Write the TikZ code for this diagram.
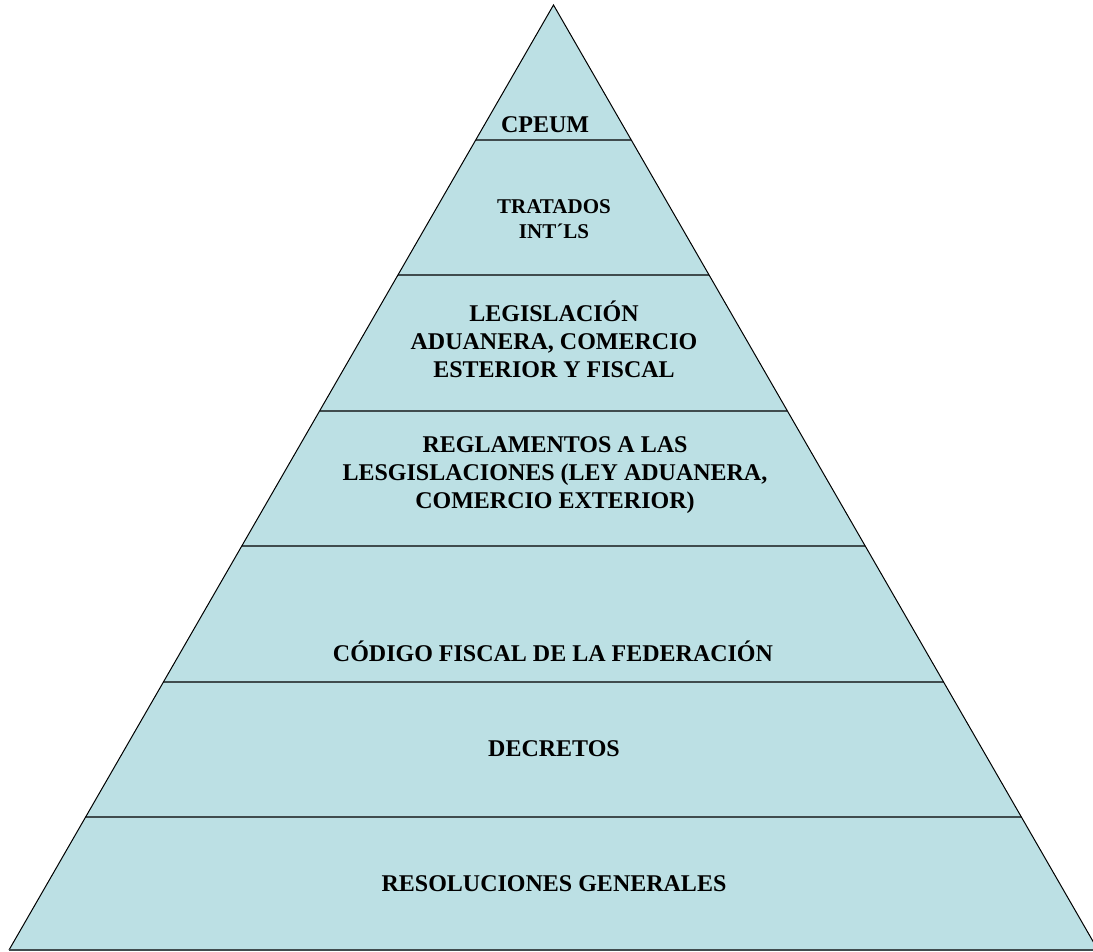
\documentclass[tikz,border=0pt]{standalone}
\usepackage{fontspec}
\setmainfont{Liberation Serif}
\usetikzlibrary{calc}
\definecolor{pyrfill}{RGB}{188,224,228}
\definecolor{sepgray}{RGB}{64,76,78}

\begin{document}
\begin{tikzpicture}[x=1pt,y=-1pt,
    lvltext/.style={align=center, font=\bfseries\fontsize{24}{28}\selectfont},
    sepline/.style={draw=sepgray, line width=2pt}]
    \useasboundingbox (0,0) rectangle (1093,952);
    \coordinate (top) at (553.5,5);
    \coordinate (bl) at (9,950);
    \coordinate (br) at (1098,950);

    \fill[pyrfill] (top) -- (bl) -- (br) -- cycle;
    \foreach \y in {140,275,411,546,682,817} {
        \draw[sepline] ($(top)!{(\y-5)/945}!(bl)$) -- ($(top)!{(\y-5)/945}!(br)$);
    }
    \draw[black, line width=1pt] (bl) -- (top) -- (br);
    \draw[sepgray, line width=1.5pt] (bl) -- (br);

    \node[lvltext] (cpeum) at (545,125) {CPEUM};
    \node[lvltext, font=\bfseries\fontsize{21}{25}\selectfont] (tratados) at (554,219) {TRATADOS\\INT´LS};
    \node[lvltext] (legis) at (554,339) {LEGISLACIÓN\\ADUANERA, COMERCIO\\ESTERIOR Y FISCAL};
    \node[lvltext, font=\bfseries\fontsize{24}{28}\selectfont] (regla) at (555,475) {REGLAMENTOS A LAS\\LESGISLACIONES (LEY ADUANERA,\\COMERCIO EXTERIOR)};
    \node[lvltext] (codigo) at (553,651) {CÓDIGO FISCAL DE LA FEDERACIÓN};
    \node[lvltext] (decretos) at (554,749) {DECRETOS};
    \node[lvltext] (resol) at (554,884) {RESOLUCIONES GENERALES};
\end{tikzpicture}
\end{document}
